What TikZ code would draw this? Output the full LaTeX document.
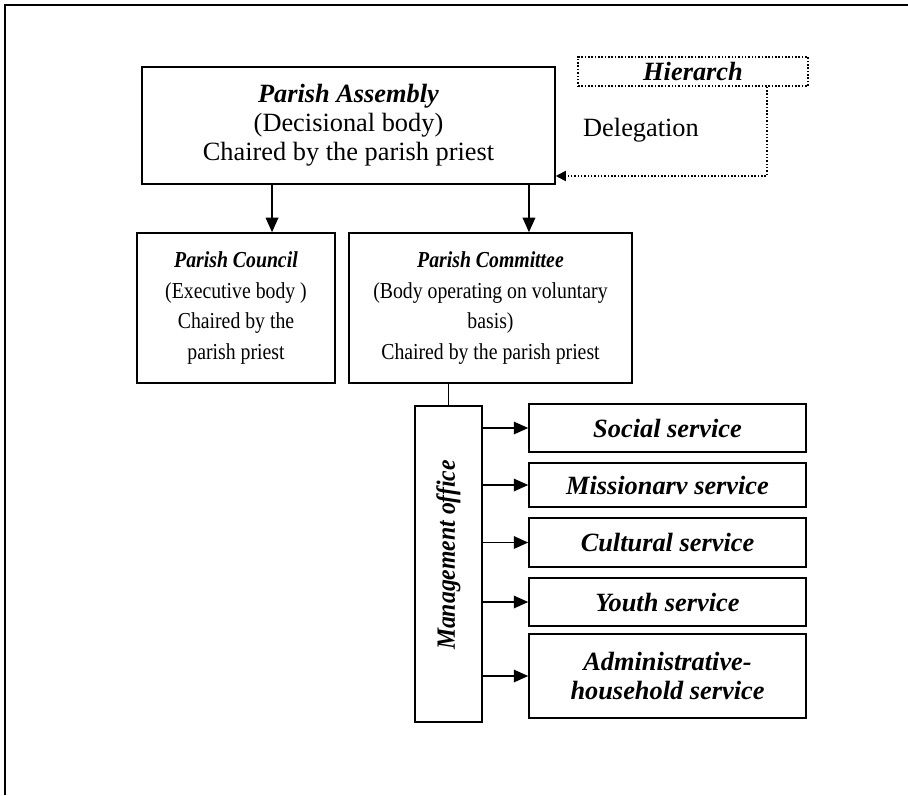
\documentclass[tikz,border=0pt]{standalone}
\usepackage{fontspec}
\setmainfont{Liberation Serif}
\newfontfamily\narrowserif[FakeStretch=0.865]{Liberation Serif}
\newfontfamily\mgmtserif[FakeStretch=0.9]{Liberation Serif}
\usetikzlibrary{arrows.meta}

\begin{document}
\begin{tikzpicture}[x=0.02cm,y=-0.02cm,
  every node/.style={font=\fontsize{15}{16.5}\selectfont},
  box/.style={draw,line width=0.9pt,align=center,inner sep=0pt},
  body/.style={box,minimum height=3cm,font=\narrowserif\fontsize{13}{17.3}\selectfont},
  svc/.style={box,minimum width=5.54cm,font=\fontsize{15}{16.5}\selectfont\bfseries\itshape},
  arr/.style={line width=1pt,-{Triangle[length=0.29cm,width=0.25cm]}},
  deleg/.style={line width=0.9pt,densely dotted,-{Triangle[length=0.2cm,width=0.2cm]}}]
\useasboundingbox (0,0) rectangle (908,795);
\draw[line width=1.2pt] (5,795) -- (5,5) -- (908,5);
\node[box,minimum width=8.26cm,minimum height=2.34cm] (assembly) at (348.5,125.5)
  {\textbf{\textit{Parish Assembly}}\\(Decisional body)\\Chaired by the parish priest};
\node[box,densely dotted,minimum width=4.6cm,minimum height=0.58cm] (hierarch) at (693,71.5)
  {\textbf{\textit{Hierarch}}};
\node (deleglbl) at (641,130) {Delegation};
\node[body,minimum width=3.96cm] (council) at (236,308)
  {\textbf{\textit{Parish Council}}\\(Executive body )\\Chaired by the\\parish priest};
\node[body,minimum width=5.66cm] (committee) at (490.5,308)
  {\textbf{\textit{Parish Committee}}\\(Body operating on voluntary\\basis)\\Chaired by the parish priest};
\node[box,minimum width=1.34cm,minimum height=6.32cm] (mgmt) at (448.5,564) {};
\node[rotate=90,font=\mgmtserif\fontsize{15}{16.5}\selectfont\bfseries\itshape] (mgmtlbl) at (448.5,555) {Management office};
\node[svc,minimum height=0.96cm] (social) at (667.5,428) {Social service};
\node[svc,minimum height=0.88cm] (mission) at (667.5,485) {Missionarv service};
\node[svc,minimum height=0.98cm] (cultural) at (667.5,542.5) {Cultural service};
\node[svc,minimum height=0.96cm] (youth) at (667.5,602) {Youth service};
\node[svc,minimum height=1.68cm] (admin) at (667.5,676) {Administrative-\\household service};
\coordinate (a1) at ([xshift=-1.53cm]assembly.south);
\coordinate (a2) at ([xshift=3.61cm]assembly.south);
\draw[arr] (a1) -- (a1 |- council.north);
\draw[arr] (a2) -- (a2 |- committee.north);
\coordinate (d1) at ([xshift=1.48cm]hierarch.south);
\coordinate (d2) at ([yshift=-1.01cm]assembly.east);
\draw[deleg] (d1) |- (d2);
\draw[line width=0.9pt] (committee.south -| mgmt.north) -- (mgmt.north);
\foreach \s in {social,mission,cultural,youth,admin}
  \draw[arr] (\s.west -| mgmt.east) -- (\s.west);
\end{tikzpicture}
\end{document}
